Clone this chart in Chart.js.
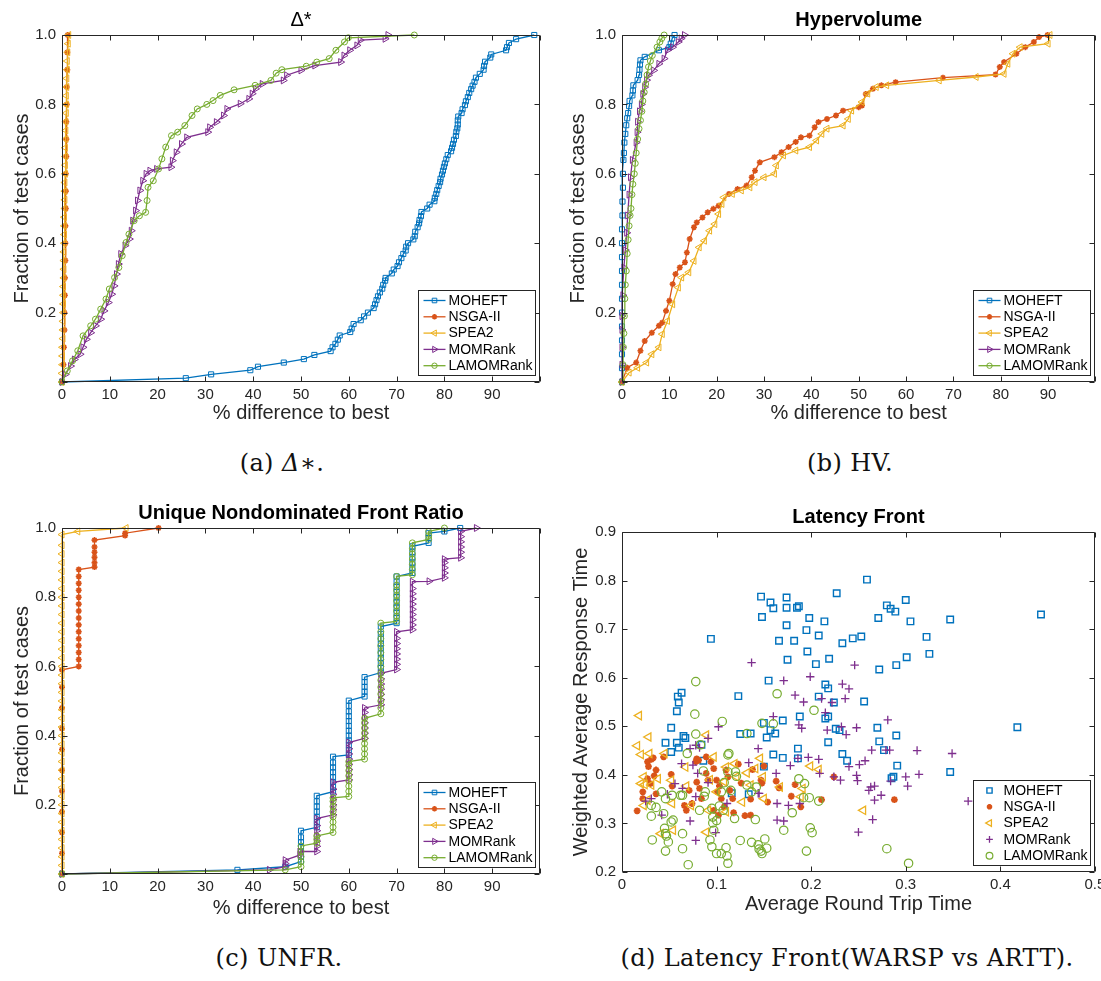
<!DOCTYPE html>
<html>
<head>
<meta charset="utf-8">
<script src="https://cdn.jsdelivr.net/npm/chart.js@4.4.0/dist/chart.umd.min.js"></script>
<style>
  body { margin: 0; background: #fff; width: 1101px; height: 981px; position: relative; overflow: hidden; }
  canvas { position: absolute; }
  .cap { position: absolute; font-family: "DejaVu Serif", serif; font-size: 24px; letter-spacing: 0.4px; line-height: 28px; color: #111; transform: translateX(-50%); white-space: nowrap; }
</style>
</head>
<body>
<canvas id="chartA" width="550" height="426" style="left:0;top:0"></canvas>
<canvas id="chartB" width="551" height="426" style="left:550px;top:0"></canvas>
<canvas id="chartC" width="550" height="430" style="left:0;top:490px"></canvas>
<canvas id="chartD" width="551" height="430" style="left:550px;top:490px"></canvas>
<div class="cap" style="left:282px;top:449px">(a) <i>Δ</i>∗.</div>
<div class="cap" style="left:850px;top:449px">(b) HV.</div>
<div class="cap" style="left:279px;top:944px">(c) UNFR.</div>
<div class="cap" style="left:847px;top:944px">(d) Latency Front(WARSP vs ARTT).</div>
<script>
// --- series names + colours (MATLAB default order) ---
const names = ['MOHEFT', 'NSGA-II', 'SPEA2', 'MOMRank', 'LAMOMRank'];
const colors = ['#0072BD', '#D95319', '#EDB120', '#7E2F8E', '#77AC30'];

// --- (a) Delta* : [% difference, fraction of test cases] ---
const aMoheft = [[0,0],[25.9,0.011],[31.2,0.022],[39.4,0.034],[41,0.044],[46.4,0.056],[50.6,0.066],[52.8,0.078],[56.2,0.089],[56.6,0.1],[57.2,0.11],[57.7,0.122],[58.1,0.134],[60.3,0.144],[60.6,0.154],[61,0.167],[62.5,0.178],[63.2,0.189],[64,0.2],[65.2,0.213],[65.5,0.224],[65.8,0.236],[66.1,0.247],[66.5,0.258],[67,0.269],[67.2,0.28],[67.6,0.292],[67.7,0.3],[69,0.313],[69.4,0.324],[70.2,0.334],[70.5,0.345],[71,0.357],[71.4,0.369],[71.9,0.379],[72,0.39],[72.4,0.4],[73.5,0.411],[73.8,0.42],[73.9,0.433],[74.4,0.446],[74.7,0.457],[74.8,0.467],[75.1,0.478],[75.2,0.49],[76.4,0.5],[76.9,0.511],[77.9,0.521],[78,0.531],[78.3,0.542],[78.5,0.553],[78.8,0.565],[79.1,0.576],[79.2,0.586],[79.5,0.598],[79.7,0.609],[79.9,0.62],[80.1,0.63],[80.4,0.642],[80.7,0.654],[81.4,0.665],[81.6,0.675],[81.8,0.686],[82,0.698],[82.4,0.709],[82.5,0.721],[82.7,0.731],[82.8,0.742],[82.8,0.754],[82.9,0.765],[83.6,0.775],[83.8,0.786],[84.3,0.798],[84.5,0.809],[84.9,0.821],[85.2,0.833],[85.6,0.844],[85.9,0.854],[86.3,0.865],[86.6,0.877],[87.4,0.888],[88.2,0.9],[88.3,0.911],[88.5,0.923],[89.6,0.935],[89.8,0.944],[92.9,0.956],[93.1,0.965],[93.5,0.977],[95,0.988],[98.8,1]];
const aNsga = [[0,0],[0.3,0.05],[0.4,0.1],[0.5,0.15],[0.5,0.2],[0.6,0.25],[0.6,0.3],[0.7,0.35],[0.7,0.4],[0.7,0.45],[0.8,0.5],[0.8,0.55],[0.8,0.6],[0.9,0.65],[0.9,0.7],[0.9,0.75],[1,0.8],[1,0.85],[1.1,0.9],[1.1,0.95],[1.2,1]];
const aSpea2 = [[0,0],[0,0.025],[0.1,0.05],[0.1,0.075],[0.1,0.1],[0.2,0.125],[0.2,0.15],[0.2,0.175],[0.3,0.2],[0.3,0.225],[0.3,0.25],[0.3,0.275],[0.4,0.3],[0.4,0.325],[0.4,0.35],[0.4,0.375],[0.5,0.4],[0.5,0.425],[0.5,0.45],[0.5,0.475],[0.6,0.5],[0.6,0.525],[0.6,0.55],[0.6,0.575],[0.7,0.6],[0.7,0.625],[0.7,0.65],[0.7,0.675],[0.8,0.7],[0.8,0.725],[0.8,0.75],[0.9,0.775],[0.9,0.8],[0.9,0.825],[1,0.85],[1,0.875],[1.1,0.9],[1.1,0.925],[1.2,0.95],[1.3,0.975],[1.4,1]];
const aMomrank = [[0,0],[0.7,0.022],[1.8,0.046],[2.6,0.065],[3.8,0.08],[4.4,0.1],[5.1,0.123],[6,0.142],[7,0.162],[8.1,0.181],[8.8,0.205],[9.7,0.229],[10.4,0.253],[10.9,0.277],[11.4,0.311],[11.8,0.34],[12.3,0.369],[13.2,0.393],[14.1,0.412],[14.5,0.436],[14.8,0.465],[15.4,0.494],[15.8,0.523],[16.3,0.552],[16.9,0.58],[17.6,0.6],[18.4,0.609],[19.8,0.614],[22.8,0.619],[23.1,0.638],[23.9,0.662],[25,0.686],[26.1,0.705],[30.5,0.72],[30.9,0.734],[32.3,0.749],[33.8,0.768],[34.5,0.787],[37.3,0.802],[39.1,0.816],[39.8,0.831],[40.5,0.845],[41.9,0.859],[46.3,0.869],[47,0.884],[50,0.898],[52.9,0.912],[58.3,0.922],[59,0.941],[60.2,0.956],[61.7,0.97],[62.4,0.985],[67.6,0.989],[68.2,1]];
const aLamomrank = [[0,0],[1.1,0.032],[2.2,0.061],[3.3,0.09],[4.4,0.133],[6,0.162],[7,0.181],[8.1,0.21],[9.2,0.239],[9.9,0.268],[11,0.301],[11.9,0.33],[12.6,0.364],[13.4,0.402],[14,0.426],[15.1,0.465],[16.2,0.479],[17.5,0.489],[17.8,0.523],[18,0.561],[19.1,0.58],[20.2,0.614],[20.9,0.643],[21.7,0.677],[22.9,0.71],[24.2,0.72],[25.7,0.739],[27.2,0.768],[28.3,0.787],[30.3,0.8],[31.6,0.811],[33.1,0.826],[36,0.842],[40.4,0.855],[43.7,0.869],[44.8,0.89],[46,0.9],[51.1,0.91],[53.3,0.922],[55.9,0.932],[57.3,0.956],[59.1,0.98],[59.9,0.992],[73.7,1]];

// --- (b) Hypervolume ---
const bMoheft = [[0,0],[0,0.04],[0,0.08],[0,0.12],[0,0.16],[0,0.2],[0,0.24],[0,0.28],[0,0.32],[0,0.36],[0,0.4],[0,0.44],[0.1,0.48],[0.1,0.52],[0.2,0.56],[0.2,0.6],[0.3,0.64],[0.4,0.66],[0.5,0.69],[0.7,0.715],[0.9,0.74],[1.1,0.76],[1.3,0.775],[1.5,0.795],[1.6,0.81],[2.2,0.826],[2.3,0.84],[2.4,0.855],[3.3,0.87],[3.6,0.885],[3.7,0.9],[3.8,0.915],[3.9,0.927],[4.8,0.937],[7.8,0.956],[10,0.965],[10.3,0.975],[10.6,0.99],[11.1,1]];
const bNsga = [[0,0],[1.1,0.041],[3,0.056],[3.9,0.09],[4.8,0.118],[6.3,0.142],[7.8,0.162],[8.5,0.171],[9.3,0.205],[10,0.234],[10.7,0.282],[11.3,0.311],[12.2,0.33],[13.3,0.345],[13.7,0.373],[14.3,0.412],[15.2,0.446],[15.8,0.46],[17,0.474],[18.1,0.489],[19.3,0.499],[20.4,0.508],[22.6,0.542],[24.4,0.556],[26.3,0.566],[27.4,0.59],[28.1,0.609],[29.1,0.633],[32.2,0.648],[33.7,0.662],[35.2,0.677],[36.7,0.692],[37.8,0.705],[39.6,0.71],[40.7,0.734],[41.5,0.749],[43.3,0.758],[45.2,0.768],[46.7,0.782],[50,0.792],[50.7,0.797],[51.5,0.83],[53,0.845],[54.8,0.855],[57.8,0.864],[67.8,0.877],[78.9,0.886],[79.8,0.908],[80.7,0.922],[83.3,0.946],[85.2,0.965],[87,0.98],[88.1,0.994],[89.9,1]];
const bSpea2 = [[0,0],[1.5,0.027],[3.3,0.041],[5.2,0.056],[6.3,0.08],[7.8,0.1],[8.5,0.138],[9.6,0.176],[10.7,0.224],[11.9,0.272],[12.6,0.301],[14.1,0.316],[15.2,0.349],[16.3,0.388],[17.4,0.407],[18.5,0.436],[19.6,0.455],[20.4,0.484],[21.1,0.513],[21.5,0.532],[23.3,0.542],[25.2,0.552],[27,0.561],[28.1,0.576],[30,0.59],[32.2,0.6],[32.6,0.624],[34.1,0.653],[36.7,0.667],[39.6,0.677],[41.1,0.696],[42.2,0.715],[43.3,0.73],[46.7,0.739],[47.8,0.758],[48.5,0.782],[50.7,0.807],[51.9,0.831],[53.7,0.85],[55.9,0.855],[67,0.869],[74.8,0.879],[80.7,0.888],[81.5,0.917],[82.6,0.946],[84.1,0.965],[90,0.975],[90.4,1]];
const bMomrank = [[0,0],[0,0.05],[0,0.1],[0,0.15],[0,0.19],[0.2,0.25],[0.4,0.33],[0.7,0.38],[1,0.43],[1.2,0.48],[1.5,0.54],[1.8,0.59],[2.2,0.64],[3,0.69],[3.2,0.72],[3.3,0.75],[3.7,0.78],[4.1,0.8],[4.4,0.83],[4.8,0.85],[5.2,0.87],[5.6,0.884],[6.7,0.898],[7.8,0.917],[8.9,0.932],[9.6,0.956],[10.7,0.965],[11.9,0.98],[12.5,0.99],[13.2,1]];
const bLamomrank = [[0,0],[0.2,0.05],[0.3,0.1],[0.4,0.14],[0.5,0.19],[0.6,0.24],[0.7,0.28],[0.9,0.32],[1.1,0.37],[1.3,0.41],[1.5,0.45],[1.7,0.48],[1.9,0.5],[2.1,0.54],[2.3,0.57],[2.6,0.6],[2.8,0.63],[3,0.66],[3.3,0.7],[3.6,0.73],[3.9,0.754],[4.2,0.78],[4.4,0.81],[4.7,0.835],[5,0.859],[5.3,0.885],[5.6,0.908],[6,0.925],[6.4,0.941],[7.4,0.965],[8,0.98],[8.4,0.99],[8.9,1]];

// --- (c) Unique Nondominated Front Ratio ---
const cMoheft = [[0,0],[36.7,0.012],[46.7,0.021],[50,0.036],[50,0.05],[50,0.064],[50,0.078],[50,0.092],[50,0.106],[50,0.125],[53.3,0.135],[53.3,0.15],[53.3,0.165],[53.3,0.18],[53.3,0.195],[53.3,0.21],[53.3,0.226],[56.7,0.238],[56.7,0.252],[56.7,0.266],[56.7,0.28],[56.7,0.294],[56.7,0.308],[56.7,0.322],[56.7,0.339],[60,0.344],[60,0.358],[60,0.372],[60,0.386],[60,0.4],[60,0.414],[60,0.428],[60,0.442],[60,0.456],[60,0.47],[60,0.486],[60,0.501],[63.3,0.513],[63.3,0.527],[63.3,0.541],[63.3,0.555],[63.3,0.569],[66.7,0.582],[66.7,0.596],[66.7,0.61],[66.7,0.624],[66.7,0.638],[66.7,0.652],[66.7,0.666],[66.7,0.68],[66.7,0.694],[66.7,0.715],[70,0.725],[70,0.74],[70,0.755],[70,0.77],[70,0.785],[70,0.8],[70,0.815],[70,0.83],[70,0.845],[70,0.86],[73.3,0.87],[73.3,0.885],[73.3,0.9],[73.3,0.915],[73.3,0.93],[73.3,0.947],[76.7,0.957],[76.7,0.971],[76.7,0.985],[80,0.99],[83.3,1]];
const cNsga = [[0,0],[0,0.06],[0,0.12],[0,0.18],[0,0.24],[0,0.3],[0,0.36],[0,0.42],[0,0.48],[0,0.54],[0,0.59],[3.5,0.6],[3.5,0.62],[3.5,0.64],[3.5,0.66],[3.5,0.68],[3.5,0.7],[3.5,0.72],[3.5,0.74],[3.5,0.76],[3.5,0.78],[3.5,0.8],[3.5,0.82],[3.5,0.84],[3.5,0.86],[3.5,0.88],[6.8,0.887],[6.8,0.9],[6.8,0.915],[6.8,0.93],[6.8,0.945],[6.8,0.965],[13.2,0.978],[13.2,0.985],[20.2,1]];
const cSpea2 = [[0,0],[0,0.025],[0,0.05],[0,0.075],[0,0.1],[0,0.125],[0,0.15],[0,0.175],[0,0.2],[0,0.225],[0,0.25],[0,0.275],[0,0.3],[0,0.325],[0,0.35],[0,0.375],[0,0.4],[0,0.425],[0,0.45],[0,0.475],[0,0.5],[0,0.525],[0,0.55],[0,0.575],[0,0.6],[0,0.625],[0,0.65],[0,0.675],[0,0.7],[0,0.725],[0,0.75],[0,0.775],[0,0.8],[0,0.825],[0,0.85],[0,0.875],[0,0.9],[0,0.925],[0,0.95],[0,0.981],[3.3,0.99],[13.4,1]];
const cMomrank = [[0,0],[43.4,0.012],[46.7,0.021],[46.7,0.03],[46.7,0.04],[49.8,0.055],[49.8,0.065],[53.3,0.065],[53.3,0.08],[53.3,0.095],[53.3,0.11],[53.3,0.125],[53.3,0.14],[53.3,0.16],[56.7,0.171],[56.7,0.186],[56.7,0.2],[56.7,0.215],[56.7,0.23],[56.7,0.245],[56.7,0.265],[60,0.272],[60,0.287],[60,0.302],[60,0.317],[60,0.332],[60,0.347],[60,0.362],[60,0.38],[63.3,0.392],[63.3,0.407],[63.3,0.422],[63.3,0.437],[63.3,0.452],[63.3,0.467],[63.3,0.48],[66.7,0.489],[66.7,0.504],[66.7,0.519],[66.7,0.534],[66.7,0.549],[66.7,0.564],[66.7,0.58],[70,0.591],[70,0.606],[70,0.621],[70,0.636],[70,0.651],[70,0.666],[70,0.681],[70,0.7],[73.3,0.706],[73.3,0.72],[73.3,0.735],[73.3,0.75],[73.3,0.765],[73.3,0.78],[73.3,0.795],[73.3,0.81],[73.3,0.825],[73.3,0.845],[76.8,0.846],[80,0.856],[80,0.87],[80,0.885],[80,0.9],[80,0.91],[83.4,0.914],[83.4,0.93],[83.4,0.945],[83.4,0.96],[83.4,0.975],[83.4,0.99],[86.7,1]];
const cLamomrank = [[0,0],[46.7,0.012],[50,0.021],[50,0.035],[50,0.05],[50,0.065],[50,0.081],[53.3,0.089],[53.3,0.1],[53.3,0.11],[56.7,0.12],[56.7,0.135],[56.7,0.15],[56.7,0.165],[56.7,0.18],[56.7,0.195],[56.7,0.21],[56.7,0.22],[60,0.224],[60,0.239],[60,0.254],[60,0.269],[60,0.284],[60,0.299],[60,0.314],[60,0.325],[63.3,0.332],[63.3,0.347],[63.3,0.362],[63.3,0.377],[63.3,0.392],[63.3,0.407],[63.3,0.422],[63.3,0.437],[63.3,0.45],[66.7,0.463],[66.7,0.48],[66.7,0.5],[66.7,0.52],[66.7,0.54],[66.7,0.56],[66.7,0.58],[66.7,0.6],[66.7,0.62],[66.7,0.64],[66.7,0.66],[66.7,0.68],[66.7,0.7],[66.7,0.725],[70,0.73],[70,0.745],[70,0.76],[70,0.775],[70,0.79],[70,0.805],[70,0.82],[70,0.835],[70,0.86],[73.3,0.865],[73.3,0.88],[73.3,0.895],[73.3,0.91],[73.3,0.925],[73.3,0.94],[73.3,0.957],[76.7,0.967],[76.7,0.978],[76.7,0.99],[80,1]];

// --- (d) Latency Front : [ARTT, WARSP] ---
const dMoheft = [[0.147,0.767],[0.157,0.755],[0.16,0.743],[0.148,0.725],[0.174,0.765],[0.174,0.744],[0.185,0.744],[0.187,0.747],[0.174,0.708],[0.198,0.723],[0.195,0.698],[0.208,0.687],[0.214,0.716],[0.227,0.774],[0.259,0.802],[0.166,0.676],[0.182,0.676],[0.094,0.68],[0.233,0.671],[0.244,0.681],[0.253,0.685],[0.196,0.654],[0.175,0.637],[0.205,0.628],[0.219,0.639],[0.28,0.749],[0.284,0.742],[0.289,0.736],[0.271,0.723],[0.3,0.76],[0.305,0.716],[0.347,0.72],[0.443,0.73],[0.322,0.684],[0.325,0.649],[0.301,0.642],[0.29,0.626],[0.272,0.617],[0.155,0.594],[0.215,0.586],[0.218,0.578],[0.208,0.561],[0.224,0.549],[0.256,0.551],[0.123,0.562],[0.063,0.569],[0.059,0.561],[0.06,0.549],[0.058,0.531],[0.052,0.497],[0.046,0.466],[0.058,0.466],[0.052,0.447],[0.06,0.456],[0.065,0.48],[0.067,0.476],[0.084,0.462],[0.086,0.429],[0.125,0.484],[0.136,0.485],[0.15,0.507],[0.157,0.492],[0.162,0.485],[0.153,0.477],[0.17,0.512],[0.188,0.52],[0.215,0.516],[0.218,0.52],[0.226,0.495],[0.23,0.492],[0.218,0.467],[0.186,0.454],[0.186,0.434],[0.16,0.442],[0.17,0.435],[0.233,0.443],[0.238,0.429],[0.27,0.497],[0.272,0.469],[0.277,0.451],[0.29,0.481],[0.291,0.419],[0.285,0.393],[0.287,0.396],[0.418,0.498],[0.347,0.406],[0.15,0.417],[0.116,0.362],[0.134,0.36]];
const dNsga = [[0.016,0.326],[0.022,0.365],[0.027,0.427],[0.028,0.417],[0.031,0.432],[0.033,0.435],[0.036,0.41],[0.034,0.398],[0.027,0.392],[0.03,0.382],[0.022,0.351],[0.036,0.361],[0.044,0.437],[0.052,0.401],[0.053,0.377],[0.066,0.337],[0.068,0.327],[0.071,0.368],[0.074,0.341],[0.078,0.427],[0.079,0.433],[0.081,0.43],[0.079,0.385],[0.082,0.372],[0.084,0.351],[0.089,0.437],[0.094,0.427],[0.089,0.403],[0.097,0.413],[0.1,0.389],[0.103,0.377],[0.101,0.365],[0.105,0.351],[0.108,0.334],[0.097,0.327],[0.102,0.317],[0.112,0.396],[0.114,0.368],[0.117,0.351],[0.118,0.322],[0.123,0.422],[0.126,0.383],[0.13,0.316],[0.136,0.35],[0.136,0.317],[0.138,0.411],[0.147,0.389],[0.148,0.383],[0.15,0.418],[0.154,0.344],[0.163,0.387],[0.166,0.373],[0.179,0.356],[0.183,0.38],[0.189,0.334],[0.211,0.349],[0.224,0.396],[0.288,0.349],[0.091,0.389],[0.11,0.41]];
const dSpea2 = [[0.018,0.522],[0.016,0.46],[0.02,0.442],[0.028,0.478],[0.029,0.444],[0.023,0.396],[0.02,0.382],[0.024,0.38],[0.031,0.379],[0.027,0.348],[0.023,0.337],[0.038,0.392],[0.045,0.444],[0.052,0.389],[0.053,0.341],[0.054,0.286],[0.041,0.279],[0.067,0.416],[0.068,0.377],[0.073,0.337],[0.089,0.482],[0.097,0.437],[0.089,0.282],[0.091,0.327],[0.093,0.39],[0.1,0.365],[0.108,0.386],[0.11,0.416],[0.11,0.324],[0.119,0.423],[0.121,0.396],[0.127,0.344],[0.132,0.404],[0.136,0.379],[0.141,0.413],[0.146,0.434],[0.149,0.396],[0.15,0.351],[0.167,0.375],[0.189,0.355],[0.191,0.372],[0.199,0.418],[0.208,0.411],[0.255,0.327]];
const dMomrank = [[0.137,0.631],[0.171,0.594],[0.199,0.602],[0.183,0.564],[0.192,0.55],[0.211,0.557],[0.233,0.587],[0.24,0.577],[0.236,0.557],[0.222,0.549],[0.246,0.626],[0.215,0.528],[0.217,0.492],[0.232,0.499],[0.237,0.483],[0.248,0.497],[0.281,0.513],[0.264,0.451],[0.279,0.451],[0.283,0.451],[0.312,0.45],[0.349,0.444],[0.314,0.401],[0.3,0.396],[0.302,0.377],[0.251,0.421],[0.257,0.429],[0.24,0.417],[0.248,0.399],[0.249,0.388],[0.231,0.389],[0.224,0.396],[0.208,0.432],[0.209,0.403],[0.197,0.436],[0.186,0.434],[0.178,0.419],[0.163,0.403],[0.187,0.503],[0.19,0.496],[0.16,0.52],[0.144,0.454],[0.144,0.362],[0.164,0.341],[0.176,0.337],[0.188,0.341],[0.164,0.307],[0.171,0.305],[0.263,0.375],[0.267,0.377],[0.261,0.368],[0.267,0.348],[0.274,0.358],[0.265,0.308],[0.25,0.282],[0.284,0.387],[0.366,0.346],[0.072,0.454],[0.078,0.461],[0.082,0.456],[0.063,0.423],[0.075,0.42],[0.08,0.403],[0.091,0.475],[0.102,0.499],[0.134,0.425],[0.056,0.382],[0.048,0.36],[0.064,0.372],[0.078,0.355],[0.091,0.384],[0.031,0.351],[0.025,0.346],[0.042,0.317],[0.072,0.305],[0.078,0.265],[0.099,0.281],[0.145,0.362],[0.111,0.341]];
const dLamomrank = [[0.078,0.592],[0.077,0.525],[0.106,0.51],[0.164,0.567],[0.203,0.533],[0.148,0.506],[0.132,0.485],[0.078,0.484],[0.16,0.505],[0.069,0.444],[0.083,0.462],[0.112,0.441],[0.113,0.444],[0.086,0.408],[0.088,0.365],[0.087,0.356],[0.082,0.327],[0.095,0.331],[0.096,0.313],[0.096,0.301],[0.1,0.306],[0.097,0.286],[0.103,0.336],[0.107,0.327],[0.105,0.365],[0.108,0.384],[0.115,0.368],[0.12,0.406],[0.121,0.397],[0.132,0.379],[0.137,0.365],[0.142,0.375],[0.119,0.31],[0.141,0.308],[0.042,0.365],[0.046,0.351],[0.053,0.358],[0.062,0.358],[0.064,0.358],[0.031,0.337],[0.036,0.333],[0.031,0.315],[0.044,0.32],[0.052,0.303],[0.054,0.307],[0.045,0.29],[0.046,0.279],[0.047,0.274],[0.064,0.279],[0.032,0.266],[0.049,0.262],[0.046,0.243],[0.064,0.248],[0.07,0.215],[0.093,0.266],[0.095,0.252],[0.105,0.238],[0.1,0.238],[0.11,0.25],[0.111,0.233],[0.112,0.218],[0.125,0.265],[0.137,0.261],[0.144,0.256],[0.145,0.247],[0.147,0.243],[0.148,0.238],[0.151,0.268],[0.153,0.249],[0.171,0.286],[0.18,0.322],[0.187,0.392],[0.193,0.382],[0.192,0.353],[0.198,0.353],[0.199,0.291],[0.201,0.281],[0.195,0.243],[0.208,0.346],[0.28,0.248],[0.303,0.218],[0.112,0.406]];

// --- marker look per series (line panels / scatter panel) ---
const lineMarkers = [
  { style: 'rect', rot: 0, r: 3.6, filled: false, bw: 1 },
  { style: 'star', rot: 0, r: 3, filled: true, bw: 1.6 },
  { style: 'triangle', rot: -90, r: 4, filled: false, bw: 1 },
  { style: 'triangle', rot: 90, r: 4, filled: false, bw: 1 },
  { style: 'circle', rot: 0, r: 3, filled: false, bw: 1 }
];
const scatterMarkers = [
  { style: 'rect', rot: 0, r: 4.6, filled: false, bw: 1.4 },
  { style: 'star', rot: 0, r: 3.4, filled: true, bw: 2 },
  { style: 'triangle', rot: -90, r: 4.8, filled: false, bw: 1.3 },
  { style: 'cross', rot: 0, r: 4.2, filled: false, bw: 1.3 },
  { style: 'circle', rot: 0, r: 4.2, filled: false, bw: 1.2 }
];

Chart.defaults.font.family = '"Liberation Sans", Arial, sans-serif';
Chart.defaults.color = '#262626';

// MATLAB style box with inward ticks on all four sides
const matlabBox = {
  id: 'matlabBox',
  afterDatasetsDraw(chart) {
    const { ctx, chartArea: a, scales } = chart;
    const L = Math.round(a.left) + 0.5, R = Math.round(a.right) - 0.5;
    const T = Math.round(a.top) + 0.5, B = Math.round(a.bottom) - 0.5;
    ctx.save();
    ctx.strokeStyle = '#262626';
    ctx.lineWidth = 1;
    ctx.beginPath();
    scales.x.ticks.forEach(t => {
      const px = Math.round(scales.x.getPixelForValue(t.value)) + 0.5;
      ctx.moveTo(px, B); ctx.lineTo(px, B - 5);
      ctx.moveTo(px, T); ctx.lineTo(px, T + 5);
    });
    scales.y.ticks.forEach(t => {
      const py = Math.round(scales.y.getPixelForValue(t.value)) + 0.5;
      ctx.moveTo(L, py); ctx.lineTo(L + 5, py);
      ctx.moveTo(R, py); ctx.lineTo(R - 5, py);
    });
    ctx.rect(L, T, R - L, B - T);
    ctx.stroke();
    ctx.restore();
  }
};

// legend box in the lower right corner of the axes
const boxLegend = {
  id: 'boxLegend',
  afterDraw(chart, args, opts) {
    const { ctx, chartArea: a } = chart;
    const w = 117, h = 85, rowH = 16.3;
    const x0 = Math.round(a.right - 5 - w) + 0.5, y0 = Math.round(a.bottom - 7 - h) + 0.5;
    ctx.save();
    ctx.fillStyle = '#fff';
    ctx.strokeStyle = '#262626';
    ctx.lineWidth = 1;
    ctx.fillRect(x0, y0, w, h);
    ctx.strokeRect(x0, y0, w, h);
    chart.data.datasets.forEach((ds, i) => {
      const cy = y0 + 10 + rowH * i;
      const m = opts.markers[i];
      ctx.strokeStyle = ds.borderColor;
      if (opts.lines) {
        ctx.lineWidth = 1.3;
        ctx.beginPath();
        ctx.moveTo(x0 + 5, cy); ctx.lineTo(x0 + 27, cy);
        ctx.stroke();
      }
      ctx.lineWidth = m.bw;
      ctx.fillStyle = m.filled ? ds.borderColor : 'rgba(0,0,0,0)';
      Chart.helpers.drawPoint(ctx, { pointStyle: m.style, rotation: m.rot, radius: opts.lines ? m.r * 0.9 : m.r * 0.8, borderWidth: m.bw }, x0 + 16, cy);
      ctx.fillStyle = '#000';
      ctx.font = '14px "Liberation Sans", Arial, sans-serif';
      ctx.textBaseline = 'middle';
      ctx.fillText(ds.label, x0 + 30, cy + 0.5);
    });
    ctx.restore();
  }
};

function makeDatasets(series, markers, withLines) {
  return series.map((pts, i) => ({
    label: names[i],
    data: pts.map(p => ({ x: p[0], y: p[1] })),
    showLine: withLines,
    borderColor: colors[i],
    backgroundColor: colors[i],
    borderWidth: 1.3,
    pointStyle: markers[i].style,
    pointRotation: markers[i].rot,
    pointRadius: markers[i].r,
    pointBorderWidth: markers[i].bw,
    pointBorderColor: colors[i],
    pointBackgroundColor: markers[i].filled ? colors[i] : 'rgba(0,0,0,0)',
    tension: 0,
    order: 5 - i,
    clip: 8
  }));
}

function makeChart(id, p) {
  const titleFont = p.titleBold ? { size: 20, weight: 'bold' } : { size: 20, weight: 'normal' };
  new Chart(document.getElementById(id), {
    type: 'scatter',
    data: { datasets: makeDatasets(p.series, p.markers, p.lines) },
    options: {
      responsive: false,
      animation: false,
      events: [],
      layout: { padding: { top: 0, left: 0, right: p.padRight, bottom: p.padBottom } },
      plugins: {
        legend: { display: false },
        tooltip: { enabled: false },
        title: { display: true, text: p.title, fullSize: false, color: '#000', font: titleFont, padding: p.titlePad },
        boxLegend: { markers: p.markers, lines: p.lines }
      },
      scales: {
        x: {
          type: 'linear', min: p.xMin, max: p.xMax,
          grid: { display: false, drawTicks: false }, border: { display: false },
          ticks: { stepSize: p.xStep, autoSkip: false, maxRotation: 0, padding: 4, font: { size: 15 }, color: '#262626', callback: p.xLabel },
          title: { display: true, text: p.xTitle, font: { size: 20 }, color: '#262626', padding: { top: 0, bottom: p.xTitlePad } },
          afterFit(s) { s.height = p.xHeight; s.paddingLeft = 0; s.paddingRight = 0; }
        },
        y: {
          type: 'linear', min: p.yMin, max: p.yMax,
          grid: { display: false, drawTicks: false }, border: { display: false },
          ticks: { stepSize: p.yStep, autoSkip: false, padding: 6, font: { size: 15 }, color: '#262626', callback: p.yLabel },
          title: { display: true, text: p.yTitle, font: { size: 20 }, color: '#262626', padding: { top: p.yTitlePad, bottom: 0 } },
          afterFit(s) { s.width = p.yWidth; s.paddingTop = 0; s.paddingBottom = 0; }
        }
      }
    },
    plugins: [matlabBox, boxLegend]
  });
}

const pctLabel = v => (v === 100 ? '' : v);
const fracLabel = v => (v === 0 ? '' : v.toFixed(1));

makeChart('chartA', {
  series: [aMoheft, aNsga, aSpea2, aMomrank, aLamomrank], markers: lineMarkers, lines: true,
  title: 'Δ*', titleBold: false, titlePad: { top: 8, bottom: 3 },
  xMin: 0, xMax: 100, xStep: 10, xLabel: pctLabel, xTitle: '% difference to best', xHeight: 44, xTitlePad: 1,
  yMin: 0, yMax: 1, yStep: 0.2, yLabel: fracLabel, yTitle: 'Fraction of test cases', yWidth: 62, yTitlePad: 10,
  padRight: 10, padBottom: 0
});
makeChart('chartB', {
  series: [bMoheft, bNsga, bSpea2, bMomrank, bLamomrank], markers: lineMarkers, lines: true,
  title: 'Hypervolume', titleBold: true, titlePad: { top: 8, bottom: 3 },
  xMin: 0, xMax: 100, xStep: 10, xLabel: pctLabel, xTitle: '% difference to best', xHeight: 44, xTitlePad: 1,
  yMin: 0, yMax: 1, yStep: 0.2, yLabel: fracLabel, yTitle: 'Fraction of test cases', yWidth: 72, yTitlePad: 16,
  padRight: 3, padBottom: 0
});
makeChart('chartC', {
  series: [cMoheft, cNsga, cSpea2, cMomrank, cLamomrank], markers: lineMarkers, lines: true,
  title: 'Unique Nondominated Front Ratio', titleBold: true, titlePad: { top: 11, bottom: 3 },
  xMin: 0, xMax: 100, xStep: 10, xLabel: pctLabel, xTitle: '% difference to best', xHeight: 46, xTitlePad: 0,
  yMin: 0, yMax: 1, yStep: 0.2, yLabel: fracLabel, yTitle: 'Fraction of test cases', yWidth: 62, yTitlePad: 10,
  padRight: 10, padBottom: 0
});
makeChart('chartD', {
  series: [dMoheft, dNsga, dSpea2, dMomrank, dLamomrank], markers: scatterMarkers, lines: false,
  title: 'Latency Front', titleBold: true, titlePad: { top: 15, bottom: 3 },
  xMin: 0, xMax: 0.5, xStep: 0.1, xLabel: v => (v === 0 ? '0' : v.toFixed(1)), xTitle: 'Average Round Trip Time', xHeight: 44, xTitlePad: 0,
  yMin: 0.2, yMax: 0.9, yStep: 0.1, yLabel: v => v.toFixed(1), yTitle: 'Weighted Average Response Time', yWidth: 72, yTitlePad: 19,
  padRight: 4, padBottom: 4
});
</script>
</body>
</html>
